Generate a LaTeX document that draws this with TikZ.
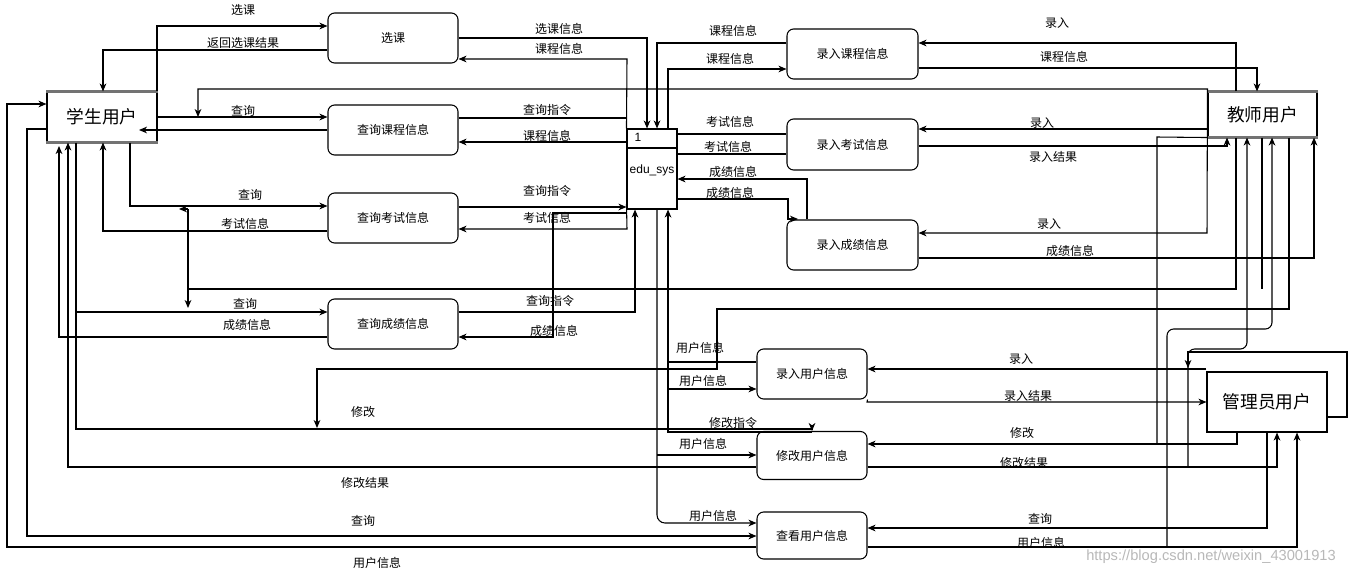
\documentclass[tikz,border=0pt]{standalone}
\usepackage{fontspec}
\setmainfont{Liberation Sans}
\newfontfamily\cjk{Noto Sans CJK SC}
\usetikzlibrary{arrows.meta}
\begin{document}
\begin{tikzpicture}[x=0.75pt,y=-0.75pt,
  ln/.style={line width=0.8pt, line join=miter},
  arr/.style={ln, -{Stealth[length=6pt,width=5pt,inset=1.8pt]}},
  barr/.style={ln, {Stealth[length=6pt,width=5pt,inset=1.8pt]}-{Stealth[length=6pt,width=5pt,inset=1.8pt]}},
  lbl/.style={font=\cjk\fontsize{9}{10}\selectfont, inner sep=0pt},
  proc/.style={draw, line width=0.8pt, rounded corners=5pt, font=\cjk\fontsize{9}{10}\selectfont, inner sep=0pt},
  ent/.style={draw, line width=0.8pt, font=\cjk\fontsize{13.3}{15}\selectfont, inner sep=0pt},
  grayedge/.style={draw=black!55, line width=1.6pt},
]
\useasboundingbox (0,0) rectangle (1356,575);

% ---------- nodes ----------
\node[ent, minimum width=82.5pt, minimum height=37.5pt] (stu) at (102,117) {学生用户};
\node[ent, minimum width=81.75pt, minimum height=33.75pt] (tea) at (1262.5,114.5) {教师用户};
\node[ent, minimum width=90pt, minimum height=45pt] (adm) at (1267,402) {管理员用户};
\draw[grayedge] (stu.north west) -- (stu.north east);
\draw[grayedge] (stu.south west) -- (stu.south east);
\draw[grayedge] (tea.north west) -- (tea.north east);
\draw[grayedge] (tea.south west) -- (tea.south east);

\node[draw, line width=0.8pt, minimum width=37.5pt, minimum height=60pt, inner sep=0pt] (sys) at (652,169) {};
\draw[ln] (sys.west |- 0,148) -- (sys.east |- 0,148);
\node[font=\fontsize{9}{10}\selectfont, inner sep=0pt] (sysnum) at (638,137) {1};
\node[font=\fontsize{9}{10}\selectfont, inner sep=0pt] (sysname) at (652,170) {edu\_sys};

\node[proc, minimum width=97.5pt, minimum height=37.5pt] (xk)  at (393,38)  {选课};
\node[proc, minimum width=97.5pt, minimum height=37.5pt] (qkc) at (393,130) {查询课程信息};
\node[proc, minimum width=97.5pt, minimum height=37.5pt] (qks) at (393,218) {查询考试信息};
\node[proc, minimum width=97.5pt, minimum height=37.5pt] (qcj) at (393,324) {查询成绩信息};
\node[proc, minimum width=98.25pt, minimum height=37.5pt] (lkc) at (852.5,54)  {录入课程信息};
\node[proc, minimum width=98.25pt, minimum height=38.25pt] (lks) at (852.5,144.5) {录入考试信息};
\node[proc, minimum width=98.25pt, minimum height=37.5pt] (lcj) at (852.5,245) {录入成绩信息};
\node[proc, minimum width=82.5pt, minimum height=37.5pt] (lyh) at (812,374) {录入用户信息};
\node[proc, minimum width=82.5pt, minimum height=36pt] (xyh) at (812,455.5) {修改用户信息};
\node[proc, minimum width=82.5pt, minimum height=35.25pt] (cyh) at (812,535.5) {查看用户信息};

% ---------- student side ----------
\draw[arr] (stu.north -| 157,0) -- (157,26) -- (xk.west |- 0,26);
\draw[arr] (xk.west |- 0,50) -- (103,50) -- (stu.north -| 103,0);
\draw[arr] (stu.east |- 0,117) -- (qkc.west |- 0,117);
\draw[arr] (qkc.west |- 0,130) -- (139,130);
\draw[barr] (198,117) -- (198,89) -- (tea.west |- 0,89) -- (1207,233) -- (lcj.east |- 0,233);
\draw[arr] (stu.south -| 130,0) -- (130,206) -- (qks.west |- 0,206);
\draw[arr] (qks.west |- 0,231) -- (103,231) -- (stu.south -| 103,0);
\draw[ln] (tea.south -| 1236,0) -- (1236,289) -- (188,289) -- (188,209);
\draw[arr] (188,209) -- (179,209);
\draw[arr] (188,289) -- (188,308);
\draw[ln] (tea.south -| 1262,0) -- (1262,289);
\draw[arr] (stu.south -| 76,0) -- (76,429) -- (812,429) -- (xyh.north -| 812,0);
\draw[arr] (76,312) -- (qcj.west |- 0,312);
\draw[arr] (qcj.west |- 0,337) -- (59,337) -- (59,146);
\draw[arr] (xyh.west |- 0,467) -- (68,467) -- (stu.south -| 68,0);
\draw[arr] (stu.west |- 0,129) -- (27,129) -- (27,536) -- (cyh.west |- 0,536);
\draw[arr] (cyh.west |- 0,547) -- (7,547) -- (7,104) -- (stu.west |- 0,104);

% ---------- system left ----------
\draw[arr] (xk.east |- 0,38) -- (647,38) -- (sys.north -| 647,0);
\draw[arr] (sys.north west) -- (627,59) -- (xk.east |- 0,59);
\draw[ln] (qkc.east |- 0,118) -- (627,118);
\draw[arr] (sys.west |- 0,142) -- (qkc.east |- 0,142);
\draw[arr] (qks.east |- 0,207) -- (sys.west |- 0,207);
\draw[arr] (sys.west |- 0,204) -- (627,229) -- (qks.east |- 0,229);
\draw[arr] (627,213) -- (553,213) -- (553,337) -- (qcj.east |- 0,337);
\draw[arr] (qcj.east |- 0,312) -- (635,312) -- (sys.south -| 635,0);

% ---------- system right ----------
\draw[arr] (lkc.west |- 0,43) -- (657,43) -- (sys.north -| 657,0);
\draw[arr] (sys.north -| 668,0) -- (668,69) -- (lkc.west |- 0,69);
\draw[ln] (sys.east |- 0,134) -- (lks.west |- 0,134);
\draw[ln] (sys.east |- 0,154) -- (lks.west |- 0,154);
\draw[arr] (lcj.north -| 807,0) -- (807,179) -- (sys.east |- 0,179);
\draw[arr] (sys.east |- 0,199) -- (788,199) -- (788,219) -- (798,219);

% ---------- system bottom ----------
\draw[arr, rounded corners=6pt] (sys.south -| 657,0) -- (657,523) -- (cyh.west |- 0,523);
\draw[arr] (657,455) -- (xyh.west |- 0,455);
\draw[arr] (lyh.west |- 0,362) -- (668,362) -- (sys.south -| 668,0);
\draw[ln] (668,362) -- (668,432) -- (812,432);
\draw[arr] (668,389) -- (lyh.west |- 0,389);
\draw[arr] (tea.south -| 1289,0) -- (1289,309) -- (717,309) -- (717,369) -- (317,369) -- (317,428);

% ---------- teacher side ----------
\draw[arr] (tea.north -| 1236,0) -- (1236,43) -- (lkc.east |- 0,43);
\draw[arr] (lkc.east |- 0,68) -- (1257,68) -- (tea.north -| 1257,0);
\draw[arr] (tea.west |- 0,129) -- (lks.east |- 0,129);
\draw[arr] (lks.east |- 0,146) -- (1227,146) -- (tea.south -| 1227,0);
\draw[arr] (lcj.east |- 0,258) -- (1314,258) -- (tea.south -| 1314,0);
\draw[ln] (tea.south west) -- (1157,137) -- (1157,444);
\draw[arr, rounded corners=5pt] (1167,547) -- (1167,329) -- (1272,329) -- (tea.south -| 1272,0);
\draw[arr, rounded corners=5pt] (1188,467) -- (1188,349) -- (1247,349) -- (tea.south -| 1247,0);

% ---------- admin side ----------
\draw[arr] (adm.west |- 0,369) -- (lyh.east |- 0,369);
\draw[arr] (lyh.south east) -- (867,402) -- (adm.west |- 0,402);
\draw[arr] (adm.south -| 1237,0) -- (1237,444) -- (xyh.east |- 0,444);
\draw[arr] (xyh.east |- 0,467) -- (1277,467) -- (adm.south -| 1277,0);
\draw[arr] (adm.south -| 1267,0) -- (1267,528) -- (cyh.east |- 0,528);
\draw[arr] (cyh.east |- 0,547) -- (1297,547) -- (adm.south -| 1297,0);
\draw[arr] (adm.east |- 0,417) -- (1347,417) -- (1347,352) -- (1188,352) -- (1188,368);

% ---------- labels ----------
\node[lbl] (t1)  at (243,10)  {选课};
\node[lbl] (t2)  at (243,43)  {返回选课结果};
\node[lbl] (t3)  at (243,111) {查询};
\node[lbl] (t4)  at (250,195) {查询};
\node[lbl] (t5)  at (245,224) {考试信息};
\node[lbl] (t6)  at (245,304) {查询};
\node[lbl] (t7)  at (247,325) {成绩信息};
\node[lbl] (t8)  at (550,301) {查询指令};
\node[lbl] (t9)  at (554,331) {成绩信息};
\node[lbl] (t10) at (363,412) {修改};
\node[lbl] (t11) at (365,483) {修改结果};
\node[lbl] (t12) at (363,521) {查询};
\node[lbl] (t13) at (377,563) {用户信息};
\node[lbl] (t14) at (559,29)  {选课信息};
\node[lbl] (t15) at (559,49)  {课程信息};
\node[lbl] (t16) at (547,110) {查询指令};
\node[lbl] (t17) at (547,136) {课程信息};
\node[lbl] (t18) at (547,191) {查询指令};
\node[lbl] (t19) at (547,218) {考试信息};
\node[lbl] (t20) at (733,31)  {课程信息};
\node[lbl] (t21) at (730,59)  {课程信息};
\node[lbl] (t22) at (730,122) {考试信息};
\node[lbl] (t23) at (728,147) {考试信息};
\node[lbl] (t24) at (733,172) {成绩信息};
\node[lbl] (t25) at (730,193) {成绩信息};
\node[lbl] (t26) at (1057,23)  {录入};
\node[lbl] (t27) at (1064,57)  {课程信息};
\node[lbl] (t28) at (1042,123) {录入};
\node[lbl] (t29) at (1053,157) {录入结果};
\node[lbl] (t30) at (1049,224) {录入};
\node[lbl] (t31) at (1070,251) {成绩信息};
\node[lbl] (t32) at (700,348) {用户信息};
\node[lbl] (t33) at (703,381) {用户信息};
\node[lbl] (t34) at (733,423) {修改指令};
\node[lbl] (t35) at (703,444) {用户信息};
\node[lbl] (t36) at (713,516) {用户信息};
\node[lbl] (t37) at (1021,359) {录入};
\node[lbl] (t38) at (1028,396) {录入结果};
\node[lbl] (t39) at (1022,433) {修改};
\node[lbl] (t40) at (1024,463) {修改结果};
\node[lbl] (t41) at (1040,519) {查询};
\node[lbl] (t42) at (1041,543) {用户信息};

\node[text=black!28, font=\fontsize{11}{12}\selectfont, inner sep=0pt] (wm) at (1211,557) {https://blog.csdn.net/weixin\_43001913};
\end{tikzpicture}
\end{document}
